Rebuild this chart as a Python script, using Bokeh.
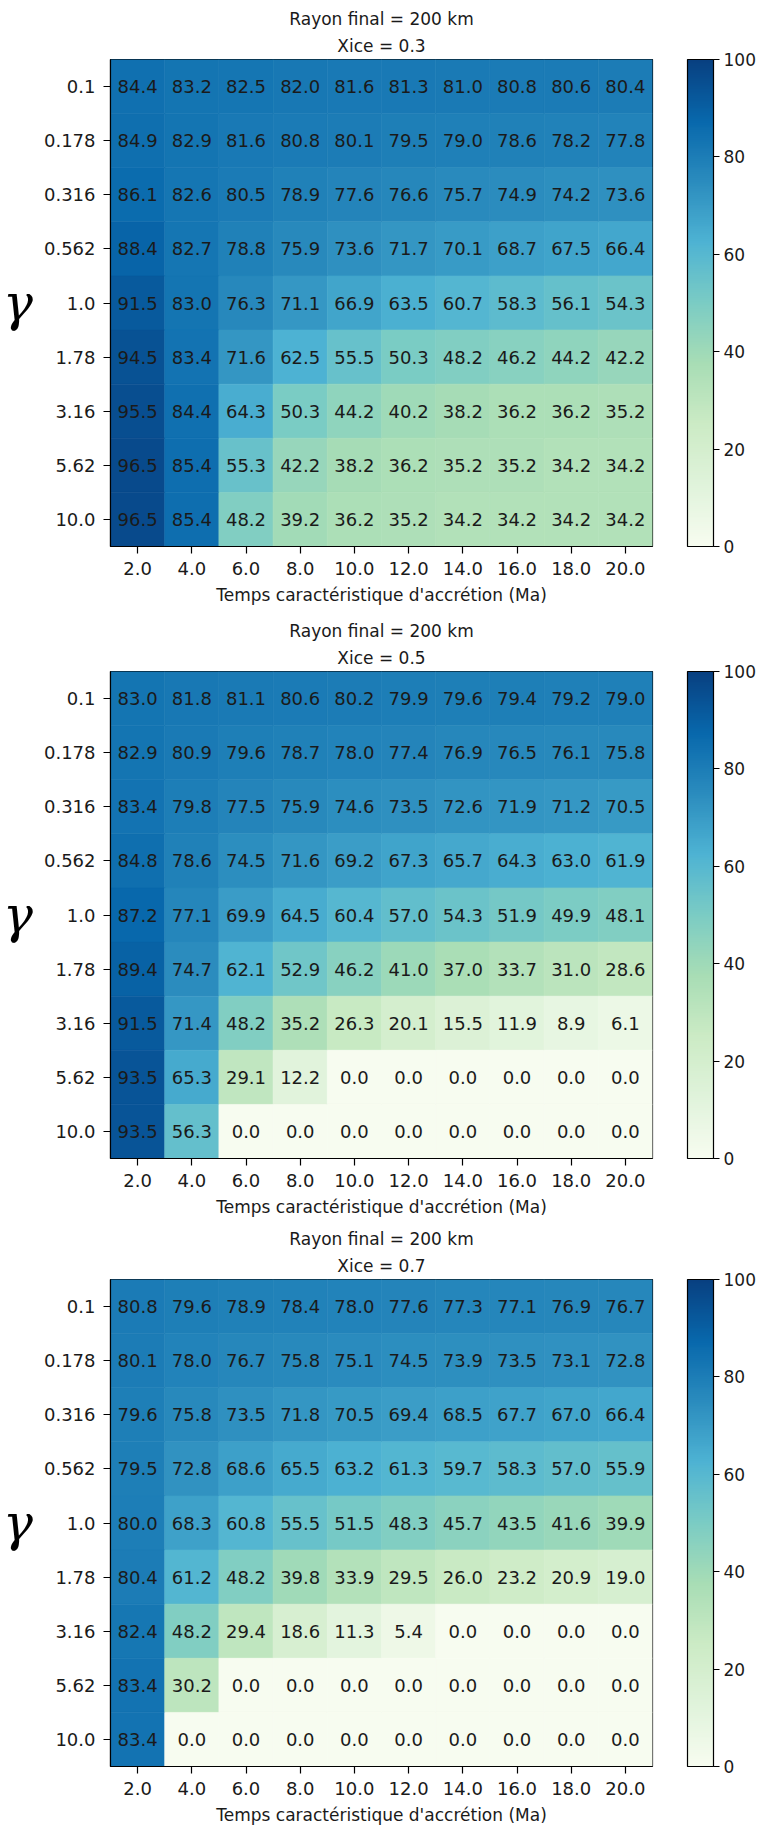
import numpy as np
from bokeh.plotting import figure
from bokeh.models import (ColumnDataSource, FactorRange, LinearColorMapper, ColorBar,
                          FixedTicker, Title)
from bokeh.transform import transform
from bokeh.layouts import column
from bokeh.embed import file_html
from bokeh.resources import INLINE

# ---- data ----
times = ["2.0", "4.0", "6.0", "8.0", "10.0", "12.0", "14.0", "16.0", "18.0", "20.0"]
gammas = ["0.1", "0.178", "0.316", "0.562", "1.0", "1.78", "3.16", "5.62", "10.0"]
xice_titles = ["Xice = 0.3", "Xice = 0.5", "Xice = 0.7"]

vals_03 = [
    [84.4, 83.2, 82.5, 82.0, 81.6, 81.3, 81.0, 80.8, 80.6, 80.4],
    [84.9, 82.9, 81.6, 80.8, 80.1, 79.5, 79.0, 78.6, 78.2, 77.8],
    [86.1, 82.6, 80.5, 78.9, 77.6, 76.6, 75.7, 74.9, 74.2, 73.6],
    [88.4, 82.7, 78.8, 75.9, 73.6, 71.7, 70.1, 68.7, 67.5, 66.4],
    [91.5, 83.0, 76.3, 71.1, 66.9, 63.5, 60.7, 58.3, 56.1, 54.3],
    [94.5, 83.4, 71.6, 62.5, 55.5, 50.3, 48.2, 46.2, 44.2, 42.2],
    [95.5, 84.4, 64.3, 50.3, 44.2, 40.2, 38.2, 36.2, 36.2, 35.2],
    [96.5, 85.4, 55.3, 42.2, 38.2, 36.2, 35.2, 35.2, 34.2, 34.2],
    [96.5, 85.4, 48.2, 39.2, 36.2, 35.2, 34.2, 34.2, 34.2, 34.2],
]
vals_05 = [
    [83.0, 81.8, 81.1, 80.6, 80.2, 79.9, 79.6, 79.4, 79.2, 79.0],
    [82.9, 80.9, 79.6, 78.7, 78.0, 77.4, 76.9, 76.5, 76.1, 75.8],
    [83.4, 79.8, 77.5, 75.9, 74.6, 73.5, 72.6, 71.9, 71.2, 70.5],
    [84.8, 78.6, 74.5, 71.6, 69.2, 67.3, 65.7, 64.3, 63.0, 61.9],
    [87.2, 77.1, 69.9, 64.5, 60.4, 57.0, 54.3, 51.9, 49.9, 48.1],
    [89.4, 74.7, 62.1, 52.9, 46.2, 41.0, 37.0, 33.7, 31.0, 28.6],
    [91.5, 71.4, 48.2, 35.2, 26.3, 20.1, 15.5, 11.9, 8.9, 6.1],
    [93.5, 65.3, 29.1, 12.2, 0.0, 0.0, 0.0, 0.0, 0.0, 0.0],
    [93.5, 56.3, 0.0, 0.0, 0.0, 0.0, 0.0, 0.0, 0.0, 0.0],
]
vals_07 = [
    [80.8, 79.6, 78.9, 78.4, 78.0, 77.6, 77.3, 77.1, 76.9, 76.7],
    [80.1, 78.0, 76.7, 75.8, 75.1, 74.5, 73.9, 73.5, 73.1, 72.8],
    [79.6, 75.8, 73.5, 71.8, 70.5, 69.4, 68.5, 67.7, 67.0, 66.4],
    [79.5, 72.8, 68.6, 65.5, 63.2, 61.3, 59.7, 58.3, 57.0, 55.9],
    [80.0, 68.3, 60.8, 55.5, 51.5, 48.3, 45.7, 43.5, 41.6, 39.9],
    [80.4, 61.2, 48.2, 39.8, 33.9, 29.5, 26.0, 23.2, 20.9, 19.0],
    [82.4, 48.2, 29.4, 18.6, 11.3, 5.4, 0.0, 0.0, 0.0, 0.0],
    [83.4, 30.2, 0.0, 0.0, 0.0, 0.0, 0.0, 0.0, 0.0, 0.0],
    [83.4, 0.0, 0.0, 0.0, 0.0, 0.0, 0.0, 0.0, 0.0, 0.0],
]
cb_ticks = [0, 20, 40, 60, 80, 100]

# ---- GnBu colormap (ColorBrewer stops, matplotlib-style linear interpolation) ----
gnbu_stops = ["#f7fcf0", "#e0f3db", "#ccebc5", "#a8ddb5", "#7bccc4",
              "#4eb3d3", "#2b8cbe", "#0868ac", "#084081"]
def _rgb(h):
    return [int(h[i:i + 2], 16) for i in (1, 3, 5)]
stops = np.array([_rgb(h) for h in gnbu_stops], dtype=float)
pos = np.linspace(0, 1, len(gnbu_stops))
t = np.linspace(0, 1, 256)
palette = ["#%02x%02x%02x" % tuple(int(round(np.interp(v, pos, stops[:, c]))) for c in range(3))
           for v in t]

FONT = "DejaVu Sans"
FS_TXT = "18px"
FS_LAB = "17px"


def make_panel(vals, subtitle, top_border, bottom_border):
    xs, ys, vs, labels = [], [], [], []
    for i, g in enumerate(gammas):
        for j, tm in enumerate(times):
            xs.append(tm)
            ys.append(g)
            vs.append(vals[i][j])
            labels.append("%.1f" % vals[i][j])
    src = ColumnDataSource(dict(x=xs, y=ys, v=vs, lab=labels))
    mapper = LinearColorMapper(palette=palette, low=0, high=100)

    p = figure(x_range=FactorRange(factors=times, range_padding=0),
               y_range=FactorRange(factors=list(reversed(gammas)), range_padding=0),
               frame_width=542, frame_height=487,
               min_border_left=109, min_border_right=103,
               min_border_top=top_border, min_border_bottom=bottom_border,
               output_backend="svg", toolbar_location=None, tools="")
    p.rect(x="x", y="y", width=1, height=1, source=src,
           fill_color=transform("v", mapper), line_color=transform("v", mapper), line_width=0.6)
    p.text(x="x", y="y", text="lab", source=src, text_align="center", text_baseline="middle",
           text_font_size=FS_TXT, text_color="#1a1a1a", text_font={"value": FONT})

    # two centred title lines: the added Title sits next to the frame
    p.title.text = "Rayon final = 200 km"
    p.title.align = "center"
    p.title.text_font = FONT
    p.title.text_font_size = FS_LAB
    p.title.text_font_style = "normal"
    p.title.text_color = "#1a1a1a"
    p.title.standoff = 1
    p.add_layout(Title(text=subtitle, align="center", text_font=FONT,
                       text_font_size=FS_LAB, text_font_style="normal",
                       text_color="#1a1a1a", standoff=8), "above")

    p.grid.visible = False
    p.outline_line_color = "black"
    p.outline_line_width = 1.2
    for ax in (p.xaxis[0], p.yaxis[0]):
        ax.major_label_text_font = FONT
        ax.major_label_text_font_size = FS_TXT
        ax.major_label_text_color = "#1a1a1a"
        ax.major_tick_in = 0
        ax.major_tick_out = 7
        ax.major_tick_line_color = "black"
        ax.major_tick_line_width = 1.2
        ax.axis_line_color = "black"
        ax.axis_line_width = 1.2
        ax.minor_tick_line_color = None
    p.xaxis.major_label_standoff = 8
    p.yaxis.major_label_standoff = 8
    p.xaxis.axis_label = "Temps caractéristique d'accrétion (Ma)"
    p.xaxis.axis_label_text_font = FONT
    p.xaxis.axis_label_text_font_size = FS_LAB
    p.xaxis.axis_label_text_font_style = "normal"
    p.xaxis.axis_label_text_color = "#1a1a1a"
    p.xaxis.axis_label_standoff = 7
    p.yaxis.axis_label = "γ"
    p.yaxis.axis_label_text_font = "DejaVu Serif"
    p.yaxis.axis_label_text_font_style = "italic"
    p.yaxis.axis_label_text_font_size = "50px"
    p.yaxis.axis_label_text_color = "black"
    p.yaxis.axis_label_orientation = "horizontal"
    p.yaxis.axis_label_standoff = 8

    cb = ColorBar(color_mapper=mapper, ticker=FixedTicker(ticks=cb_ticks), width=26,
                  padding=0, margin=0, location=(35, 0),
                  bar_line_color="black", bar_line_width=1.2,
                  major_tick_line_color="black", major_tick_line_width=1.2,
                  major_tick_in=0, major_tick_out=6, minor_tick_line_color=None,
                  major_label_text_font=FONT, major_label_text_font_size=FS_LAB,
                  major_label_text_color="#1a1a1a", label_standoff=4,
                  background_fill_color=None, border_line_color=None)
    p.add_layout(cb, "right")
    return p


p1 = make_panel(vals_03, xice_titles[0], 59, 72)
p2 = make_panel(vals_05, xice_titles[1], 51, 68)
p3 = make_panel(vals_07, xice_titles[2], 51, 52)
layout = column(p1, p2, p3, spacing=0)
open("out.html", "w").write(file_html(layout, INLINE))
